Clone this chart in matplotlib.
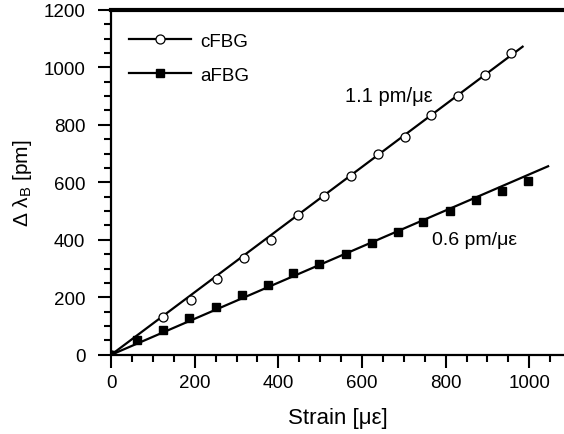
import matplotlib
matplotlib.use("Agg")
import matplotlib.pyplot as plt
from matplotlib.lines import Line2D
from matplotlib.ticker import MultipleLocator

# measured points
c_strain = [0, 125, 190, 254, 318, 382, 446, 510, 574, 638, 702, 765, 829, 893, 957]
c_shift = [0, 131, 192, 264, 336, 399, 485, 552, 623, 699, 759, 835, 901, 975, 1049]
a_strain = [0, 63, 124, 187, 250, 312, 375, 436, 498, 561, 624, 685, 747, 810, 872, 935, 997]
a_shift = [0, 52, 85, 127, 168, 209, 243, 283, 315, 352, 390, 427, 461, 502, 540, 569, 603]

# linear fits
c_fit_x = [0, 984]
c_fit_y = [0, 1072]
a_fit_x = [0, 1045]
a_fit_y = [0, 656]

plt.rcParams.update({
    "font.family": "Liberation Sans", "font.size": 13.5,
    "mathtext.fontset": "custom", "mathtext.rm": "Liberation Sans",
    "mathtext.it": "Liberation Sans:italic",
    "axes.linewidth": 1.6, "xtick.major.width": 1.5, "ytick.major.width": 1.5,
    "xtick.minor.width": 1.5, "ytick.minor.width": 1.5,
    "xtick.major.size": 9.5, "ytick.major.size": 9.5,
    "xtick.minor.size": 5, "ytick.minor.size": 5,
})

fig = plt.figure(figsize=(5.64, 4.35), dpi=100)
ax = fig.add_axes([0.197, 0.182, 0.803, 0.793])

ax.plot(c_fit_x, c_fit_y, color="black", lw=1.6, zorder=2)
ax.plot(a_fit_x, a_fit_y, color="black", lw=1.6, zorder=2)
ax.plot(c_strain, c_shift, "o", ms=6.5, mfc="white", mec="black", mew=0.9, ls="none", zorder=3)
ax.plot(a_strain, a_shift, "s", ms=5.4, mfc="black", mec="black", ls="none", zorder=3)

ax.text(559, 903, "1.1 pm/\u03bc\u03b5", ha="left", va="center", fontsize=14.5)
ax.text(767, 400, "0.6 pm/\u03bc\u03b5", ha="left", va="center", fontsize=14)

ax.set_xlim(0, 1083)
ax.set_ylim(0, 1200)
ax.xaxis.set_major_locator(MultipleLocator(200))
ax.xaxis.set_minor_locator(MultipleLocator(50))
ax.yaxis.set_major_locator(MultipleLocator(200))
ax.yaxis.set_minor_locator(MultipleLocator(50))
ax.tick_params(which="both", direction="out")
ax.tick_params(axis="x", pad=4)
ax.tick_params(axis="y", pad=9)
ax.spines["right"].set_visible(False)
ax.spines["top"].set_linewidth(3)

ax.set_xlabel("Strain [\u03bc\u03b5]", fontsize=16, labelpad=12)
ax.set_ylabel("\u0394 \u03bb$_\\mathrm{B}$ [pm]", fontsize=15)
ax.yaxis.set_label_coords(-0.17, 0.5)

handles = [
    Line2D([], [], color="black", lw=1.6, marker="o", ms=6.5, mfc="white", mec="black", mew=0.9),
    Line2D([], [], color="black", lw=1.6, marker="s", ms=5.4, mfc="black", mec="black"),
]
ax.legend(handles, ["cFBG", "aFBG"], loc="upper left", frameon=False,
          fontsize=13.5, handlelength=3.3, handletextpad=0.5, labelspacing=0.9,
          bbox_to_anchor=(0.01, 0.972), borderaxespad=0.3)

fig.savefig("out.png", dpi=100)
